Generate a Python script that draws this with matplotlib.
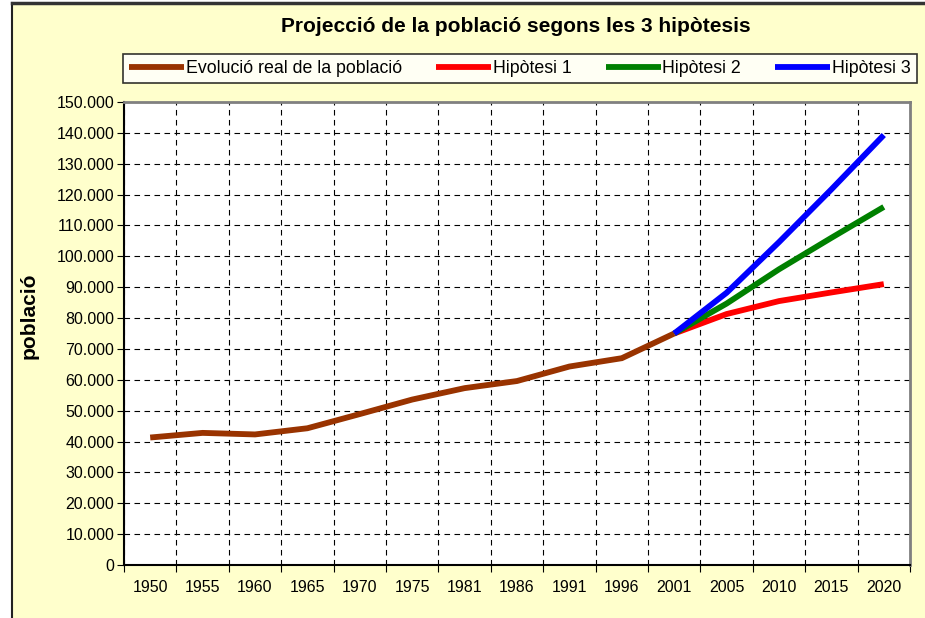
import matplotlib
matplotlib.use("Agg")
import matplotlib.pyplot as plt
from matplotlib.ticker import FuncFormatter, FixedLocator
from matplotlib.patches import Rectangle
from matplotlib.lines import Line2D

plt.rcParams['font.family'] = ['Liberation Sans', 'DejaVu Sans']

years = ['1950', '1955', '1960', '1965', '1970', '1975', '1981', '1986',
         '1991', '1996', '2001', '2005', '2010', '2015', '2020']
real = [41300, 42800, 42300, 44300, 48900, 53600, 57300, 59600,
        64300, 67000, 75000]
hyp_years = ['2001', '2005', '2010', '2015', '2020']
hip1 = [75000, 81300, 85500, 88300, 91000]
hip2 = [75000, 84700, 95800, 106000, 116000]
hip3 = [75000, 88200, 104600, 121700, 139300]
yticks = list(range(0, 150001, 10000))

W, H = 925, 618
fig = plt.figure(figsize=(W / 100, H / 100), dpi=100)
fig.patch.set_facecolor('white')
# chart area background
fig.patches.append(Rectangle((12 / W, 0), 1, 1 - 3 / H, transform=fig.transFigure,
                             facecolor='#FFFFCC', edgecolor='none', zorder=-10))
fig.lines.append(Line2D([12 / W, 12 / W], [0, 1 - 3 / H], transform=fig.transFigure,
                        color='#222222', lw=1.5))
fig.lines.append(Line2D([12 / W, 1], [1 - 3 / H, 1 - 3 / H], transform=fig.transFigure,
                        color='#333333', lw=2.5))

ax = fig.add_axes([124 / W, 1 - 565 / H, (910 - 124) / W, (565 - 102) / H])
ax.set_facecolor('white')

idx = {y: i for i, y in enumerate(years)}
ax.plot([idx[y] for y in years[:len(real)]], real, color='#993300', lw=4.2,
        solid_joinstyle='miter', solid_capstyle='butt', label='Evolució real de la població', zorder=3)
hx = [idx[y] for y in hyp_years]
ax.plot(hx, hip1, color='#FF0000', lw=4.2, solid_capstyle='butt', label='Hipòtesi 1', zorder=4)
ax.plot(hx, hip2, color='#008000', lw=4.2, solid_capstyle='butt', label='Hipòtesi 2', zorder=5)
ax.plot(hx, hip3, color='#0000FF', lw=4.2, solid_capstyle='butt', label='Hipòtesi 3', zorder=6)

ax.set_xlim(-0.5, len(years) - 0.5)
ax.set_ylim(0, 150000)
ax.set_yticks(yticks)
ax.yaxis.set_major_formatter(FuncFormatter(lambda v, p: f"{int(v):,}".replace(',', '.')))
ax.xaxis.set_major_locator(FixedLocator([i - 0.5 for i in range(len(years) + 1)]))
ax.set_xticklabels([])
ax.xaxis.set_minor_locator(FixedLocator(list(range(len(years)))))
ax.set_xticklabels(years, minor=True)
ax.tick_params(axis='x', which='minor', length=0, pad=11, labelsize=11.5)
ax.tick_params(axis='x', which='major', length=5, direction='out', color='black')
ax.tick_params(axis='y', length=5, direction='out', labelsize=11.5, pad=2)

ax.grid(True, which='major', color='black', linestyle=(0, (5, 4)), linewidth=0.8)
ax.set_axisbelow(True)
for s in ['top', 'right']:
    ax.spines[s].set_color('#808080')
    ax.spines[s].set_linewidth(2)
for s in ['left', 'bottom']:
    ax.spines[s].set_color('black')
    ax.spines[s].set_linewidth(1.5)

fig.text(29 / W, 1 - 316 / H, 'població', rotation=90, ha='center', va='center',
         fontsize=15, fontweight='bold')

fig.text(516 / W, 1 - 27 / H, 'Projecció de la població segons les 3 hipòtesis',
         ha='center', va='center', fontsize=15, fontweight='bold')

leg = fig.legend(loc='center', bbox_to_anchor=(520 / W, 1 - 68.5 / H), ncol=4,
                 frameon=True, fancybox=False, edgecolor='black', fontsize=12.8,
                 handlelength=3.1, handletextpad=0.1, columnspacing=1.9,
                 borderpad=0.35)
leg.get_frame().set_linewidth(1.2)
leg.get_frame().set_facecolor('white')

fig.savefig('out.png', dpi=100, facecolor=fig.get_facecolor())
